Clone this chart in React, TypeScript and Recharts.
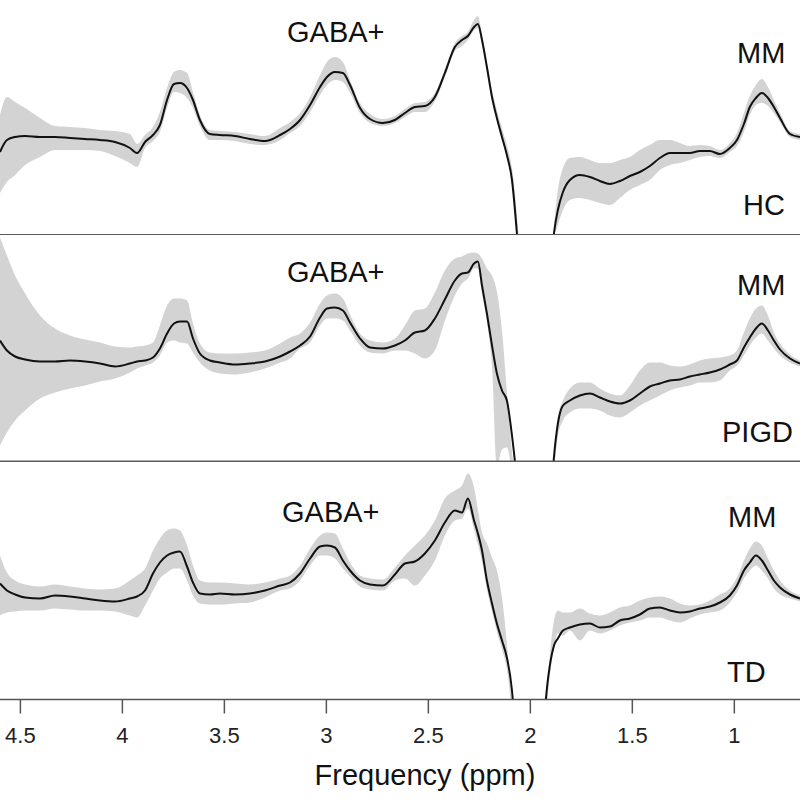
import React from 'react';
import { ComposedChart, Area, Line, XAxis, YAxis, ReferenceLine } from 'recharts';

// chemical shift grid (ppm), from left (high) to right (low)
const ppm = [
  4.600, 4.566, 4.526, 4.477, 4.404, 4.330, 4.257, 4.183, 4.110, 4.036,
  3.963, 3.928, 3.889, 3.850, 3.816, 3.781, 3.747, 3.718, 3.683, 3.654,
  3.620, 3.571, 3.522, 3.448, 3.375, 3.301, 3.227, 3.178, 3.129, 3.080,
  3.031, 2.997, 2.958, 2.919, 2.884, 2.835, 2.786, 2.723, 2.664, 2.615,
  2.566, 2.517, 2.468, 2.419, 2.370, 2.335, 2.306, 2.276, 2.257, 2.237,
  2.213, 2.188, 2.164, 2.139, 2.115, 2.090, 2.066, 2.026, 1.977, 1.928,
  1.884, 1.865, 1.840, 1.806, 1.757, 1.708, 1.659, 1.610, 1.561, 1.512,
  1.463, 1.414, 1.365, 1.316, 1.267, 1.218, 1.169, 1.120, 1.071, 1.022,
  0.987, 0.953, 0.924, 0.894, 0.865, 0.835, 0.806, 0.776, 0.727, 0.678,
];

// HC group: mean spectrum and +/- SD band (arbitrary units)
const hcMean = [
  83, 95, 98, 99, 98, 98, 97, 96, 95, 93,
  87, 82, 93, 100, 110, 135, 151, 152, 147, 135,
  115, 101, 100, 99, 96, 94, 100, 106, 115, 130,
  148, 158, 163, 162, 150, 127, 116, 112, 115, 122,
  128, 129, 138, 162, 188, 195, 199, 208, 211, 195,
  168, 138, 117, 98, 80, 55, 2, -120, -300, -120,
  2, 25, 43, 55, 60, 58, 54, 51, 54, 59,
  63, 69, 77, 82, 82, 82, 84, 84, 81, 87,
  95, 111, 128, 137, 142, 137, 128, 117, 101, 98,
];
const hcHigh = [
  120, 138, 133, 127, 117, 109, 108, 107, 105, 104,
  101, 91, 100, 108, 123, 147, 163, 165, 162, 143,
  120, 105, 104, 103, 101, 99, 107, 113, 122, 138,
  160, 173, 178, 173, 155, 132, 121, 116, 119, 126,
  132, 133, 142, 166, 192, 199, 203, 215, 219, 201,
  173, 145, 125, 107, 90, 67, 20, -100, -280, -100,
  10, 45, 67, 77, 78, 75, 72, 72, 75, 78,
  85, 90, 95, 95, 92, 89, 90, 89, 85, 92,
  102, 122, 139, 150, 156, 148, 135, 122, 104, 101,
];
const hcLow = [
  42, 53, 60, 70, 78, 85, 85, 85, 84, 79,
  72, 68, 87, 94, 103, 127, 143, 142, 137, 127,
  109, 95, 95, 94, 91, 90, 95, 102, 109, 123,
  140, 150, 155, 153, 142, 122, 112, 109, 112, 118,
  123, 123, 134, 158, 184, 189, 195, 205, 207, 191,
  165, 135, 114, 95, 77, 50, -5, -140, -320, -140,
  -5, 10, 25, 35, 37, 35, 32, 30, 37, 45,
  50, 55, 65, 70, 72, 75, 78, 79, 77, 83,
  89, 103, 120, 130, 132, 129, 122, 113, 98, 95,
];

// PIGD group
const pigdMean = [
  121, 111, 105, 102, 100, 100, 101, 100, 98, 95,
  98, 100, 101, 104, 113, 128, 138, 140, 140, 123,
  108, 101, 99, 97, 98, 100, 105, 110, 116, 125,
  144, 153, 154, 151, 139, 123, 114, 113, 116, 121,
  129, 131, 143, 162, 181, 188, 189, 198, 200, 176,
  148, 116, 88, 71, 61, 26, -20, -150, -300, -150,
  5, 38, 56, 61, 66, 68, 64, 60, 58, 61,
  68, 75, 78, 81, 82, 85, 87, 89, 92, 97,
  101, 114, 124, 133, 138, 131, 121, 112, 103, 98,
];
const pigdHigh = [
  224, 206, 186, 168, 146, 133, 126, 122, 119, 115,
  114, 115, 116, 119, 136, 156, 163, 163, 161, 138,
  118, 109, 108, 108, 109, 111, 118, 124, 128, 139,
  158, 166, 168, 163, 147, 128, 121, 119, 123, 136,
  151, 153, 169, 191, 203, 205, 208, 209, 208, 203,
  193, 186, 170, 131, 70, 10, -30, -140, -290, -140,
  6, 45, 61, 73, 79, 79, 73, 68, 66, 76,
  91, 99, 99, 96, 95, 97, 101, 103, 104, 106,
  111, 129, 143, 153, 156, 146, 129, 118, 107, 101,
];
const pigdLow = [
  16, 29, 41, 51, 63, 69, 73, 76, 80, 83,
  89, 93, 96, 99, 106, 119, 121, 119, 118, 109,
  99, 91, 88, 87, 89, 93, 99, 103, 113, 119,
  136, 143, 143, 141, 131, 116, 109, 108, 111, 111,
  108, 103, 111, 141, 166, 178, 183, 193, 193, 168,
  140, 95, -5, 12, 14, -10, -40, -160, -310, -160,
  -10, 25, 41, 49, 53, 53, 51, 46, 44, 49,
  56, 61, 66, 71, 74, 76, 79, 79, 81, 91,
  96, 106, 116, 124, 128, 121, 113, 106, 99, 95,
];

// TD group
const tdMean = [
  116, 109, 105, 102, 101, 104, 103, 101, 99, 98,
  101, 103, 109, 126, 137, 144, 147, 148, 133, 117,
  106, 105, 106, 105, 106, 109, 114, 117, 126, 141,
  153, 154, 152, 139, 129, 119, 115, 114, 125, 136,
  138, 146, 159, 177, 189, 187, 201, 179, 166, 149,
  119, 96, 76, 59, 42, 9, -60, -200, -200, -10,
  54, 61, 69, 72, 75, 76, 72, 73, 79, 81,
  85, 91, 92, 89, 87, 88, 91, 93, 97, 104,
  114, 129, 137, 144, 139, 129, 119, 112, 105, 101,
];
const tdHigh = [
  144, 127, 119, 115, 113, 115, 113, 111, 110, 111,
  119, 124, 131, 149, 161, 169, 171, 169, 154, 134,
  119, 117, 117, 116, 115, 117, 121, 124, 134, 151,
  164, 167, 166, 151, 137, 124, 121, 120, 132, 144,
  154, 164, 179, 201, 209, 214, 226, 212, 190, 167,
  156, 142, 129, 102, 56, -5, -70, -210, -210, -20,
  79, 89, 87, 87, 91, 86, 84, 87, 92, 94,
  99, 102, 103, 101, 96, 94, 95, 99, 105, 111,
  122, 139, 151, 158, 154, 141, 129, 119, 109, 104,
];
const tdLow = [
  84, 87, 88, 89, 89, 91, 90, 89, 89, 88,
  84, 82, 94, 109, 121, 127, 131, 131, 119, 104,
  96, 95, 95, 96, 97, 102, 109, 111, 119, 134,
  144, 144, 141, 131, 123, 113, 110, 109, 119, 121,
  114, 124, 139, 164, 179, 181, 191, 170, 155, 138,
  110, 88, 68, 50, 30, -15, -80, -220, -220, -30,
  52, 66, 64, 69, 59, 69, 66, 69, 74, 77,
  79, 82, 82, 79, 77, 81, 85, 87, 89, 97,
  107, 121, 129, 134, 129, 121, 111, 105, 101, 98,
];

const xTicks = [4.5, 4, 3.5, 3, 2.5, 2, 1.5, 1];
const groupNames = ['HC', 'PIGD', 'TD'];
const peakNames = ['GABA+', 'MM'];
const axisTitle = 'Frequency (ppm)';

const FONT = '"Liberation Sans", Arial, Helvetica, sans-serif';
const X_DOMAIN: [number, number] = [0.678, 4.6];
const AXIS_H = 103;

const rows = (mean: number[], low: number[], high: number[]) =>
  ppm.map((p, i) => ({ ppm: p, mean: mean[i], band: [low[i], high[i]] }));

const panels = [
  { data: rows(hcMean, hcLow, hcHigh), top: 0, plotH: 235, axis: false },
  { data: rows(pigdMean, pigdLow, pigdHigh), top: 235, plotH: 226.5, axis: false },
  { data: rows(tdMean, tdLow, tdHigh), top: 461.5, plotH: 237.5, axis: true },
];

// label placement (layout only)
const labelPos = [
  { gaba: [287, 42], mm: [737, 63], grp: [743, 215] },
  { gaba: [287, 282], mm: [737, 295], grp: [722, 442] },
  { gaba: [282, 522], mm: [728, 527], grp: [727, 682] },
];

function Panel({ data, plotH, axis }: { data: any[]; plotH: number; axis: boolean }) {
  const h = plotH + (axis ? AXIS_H : 0);
  return (
    <ComposedChart width={800} height={h} data={data} margin={{ top: 0, right: 0, bottom: 0, left: 0 }}>
      <XAxis
        dataKey="ppm"
        type="number"
        domain={X_DOMAIN}
        reversed
        allowDataOverflow
        ticks={xTicks}
        interval={0}
        hide={!axis}
        height={axis ? AXIS_H : 0}
        tickSize={14}
        tickMargin={14}
        tick={{ fontSize: 22, fill: '#222', fontFamily: FONT }}
        axisLine={{ stroke: '#555', strokeWidth: 1.5 }}
        tickLine={{ stroke: '#555', strokeWidth: 1.5 }}
        tickFormatter={(v: number) => String(v)}
      />
      <YAxis hide domain={[0, plotH]} allowDataOverflow />
      <Area
        dataKey="band"
        type="monotone"
        fill="#d3d3d3"
        fillOpacity={1}
        stroke="none"
        dot={false}
        activeDot={false}
        isAnimationActive={false}
      />
      <Line
        dataKey="mean"
        type="monotone"
        stroke="#111"
        strokeWidth={2}
        dot={false}
        activeDot={false}
        isAnimationActive={false}
      />
      {!axis && <ReferenceLine y={0} stroke="#5a5a5a" strokeWidth={2} />}
    </ComposedChart>
  );
}

export default function App() {
  const textStyle = { fontFamily: FONT, fontSize: 29, fill: '#111' } as const;
  return (
    <div style={{ position: 'absolute', left: 0, top: 0, width: 800, height: 802, background: '#fff' }}>
      {panels.map((p, i) => (
        <div key={i} style={{ position: 'absolute', left: 0, top: p.top }}>
          <Panel data={p.data} plotH={p.plotH} axis={p.axis} />
        </div>
      ))}
      <svg
        width={800}
        height={802}
        style={{ position: 'absolute', left: 0, top: 0, pointerEvents: 'none' }}
      >
        {labelPos.map((l, i) => (
          <g key={i}>
            <text x={l.gaba[0]} y={l.gaba[1]} style={textStyle}>{peakNames[0]}</text>
            <text x={l.mm[0]} y={l.mm[1]} style={textStyle}>{peakNames[1]}</text>
            <text x={l.grp[0]} y={l.grp[1]} style={textStyle}>{groupNames[i]}</text>
          </g>
        ))}
        <text x={425} y={785} textAnchor="middle" style={textStyle}>{axisTitle}</text>
      </svg>
    </div>
  );
}
